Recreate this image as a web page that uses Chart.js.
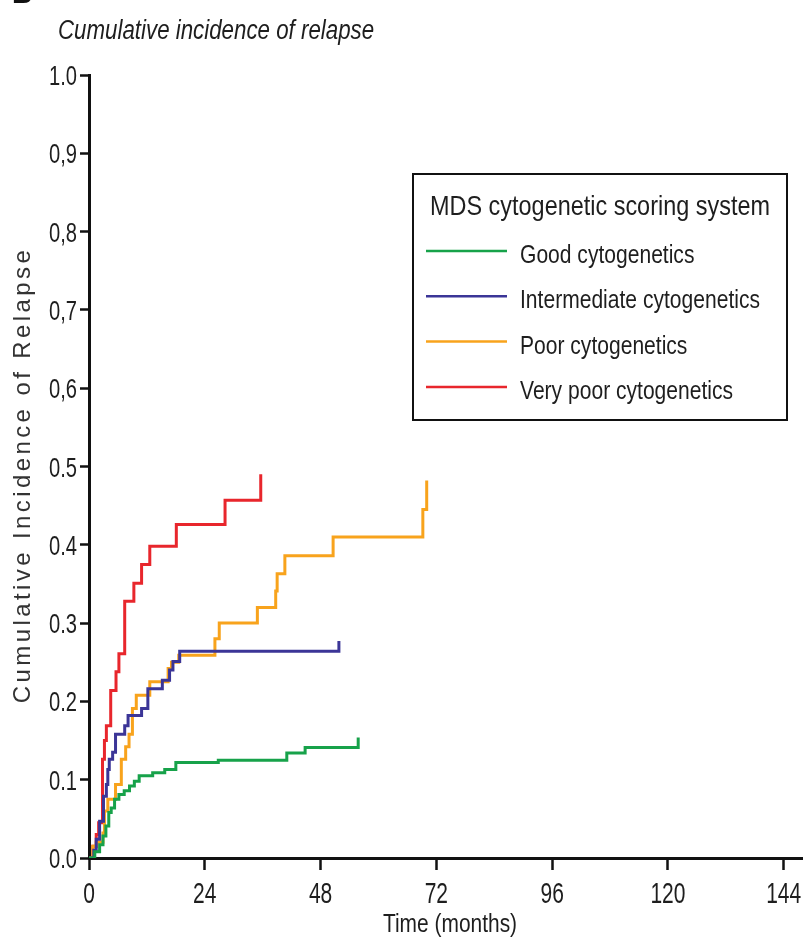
<!DOCTYPE html>
<html>
<head>
<meta charset="utf-8">
<title>Cumulative incidence of relapse</title>
<script src="https://cdn.jsdelivr.net/npm/chart.js@4.4.1/dist/chart.umd.min.js"></script>
<style>
    html, body { margin: 0; padding: 0; background: #fff; }
    #wrap { width: 803px; height: 942px; }
</style>
</head>
<body>
<div id="wrap"><canvas id="cir" width="803" height="942"></canvas></div>
<script>
// values (months, cumulative incidence)
const goodMonths = [0, 1.2, 2.2, 2.9, 3.5, 4.1, 4.6, 5.3, 6.2, 7.3, 8.4, 9.4, 10.4, 13.2, 15.7, 18.0, 26.8, 41.0, 44.8, 55.8];
const goodCir = [0, 0.008, 0.017, 0.028, 0.041, 0.058, 0.064, 0.075, 0.081, 0.086, 0.092, 0.098, 0.105, 0.109, 0.113, 0.122, 0.125, 0.134, 0.141, 0.154];

const interMonths = [0, 1.0, 1.5, 2.2, 3.0, 3.6, 3.9, 4.2, 4.9, 5.5, 7.4, 8.1, 10.9, 12.2, 15.2, 16.7, 17.4, 18.8, 51.8];
const interCir = [0, 0.01, 0.024, 0.047, 0.079, 0.094, 0.113, 0.126, 0.135, 0.158, 0.169, 0.182, 0.191, 0.216, 0.227, 0.240, 0.251, 0.264, 0.277];

const poorMonths = [0, 0.8, 1.5, 2.9, 3.2, 3.9, 5.5, 6.7, 7.6, 8.3, 9.0, 9.8, 12.6, 16.4, 17.1, 18.6, 26.1, 27.0, 34.9, 38.7, 39.0, 40.6, 50.6, 69.2, 70.0];
const poorCir = [0, 0.015, 0.02, 0.032, 0.06, 0.075, 0.094, 0.126, 0.142, 0.158, 0.191, 0.208, 0.225, 0.242, 0.25, 0.259, 0.28, 0.30, 0.32, 0.341, 0.363, 0.386, 0.41, 0.445, 0.482];

const veryPoorMonths = [0, 0.8, 1.5, 2.0, 2.8, 3.2, 3.6, 4.5, 5.6, 6.2, 7.4, 9.3, 10.9, 12.6, 18.1, 28.2, 35.6];
const veryPoorCir = [0, 0.015, 0.03, 0.045, 0.126, 0.15, 0.169, 0.214, 0.238, 0.261, 0.328, 0.351, 0.375, 0.398, 0.426, 0.457, 0.49];

const seriesLabels = ["Good cytogenetics", "Intermediate cytogenetics", "Poor cytogenetics", "Very poor cytogenetics"];
const seriesColors = ["#17a24a", "#3b3597", "#f8a31c", "#e8262c"];

const xTickValues = [0, 24, 48, 72, 96, 120, 144];
const yTickValues = [0, 0.1, 0.2, 0.3, 0.4, 0.5, 0.6, 0.7, 0.8, 0.9, 1.0];
const yTickLabels = ["0.0", "0.1", "0.2", "0.3", "0.4", "0.5", "0,6", "0,7", "0,8", "0,9", "1.0"];

const SANS = "'Liberation Sans', Arial, sans-serif";
const INK = "#1e1e1e";

function toPoints(months, values) {
    return months.map((m, i) => ({ x: m, y: values[i] }));
}

const seriesData = [
    toPoints(goodMonths, goodCir),
    toPoints(interMonths, interCir),
    toPoints(poorMonths, poorCir),
    toPoints(veryPoorMonths, veryPoorCir)
];

// no narrow face is installed, so squeeze the regular one horizontally
function narrowText(ctx, text, x, y, size, sx, align, style) {
    ctx.save();
    ctx.font = (style ? style + " " : "") + size + "px " + SANS;
    ctx.textAlign = align || "left";
    ctx.textBaseline = "alphabetic";
    ctx.fillStyle = INK;
    ctx.translate(x, y);
    ctx.scale(sx, 1);
    ctx.fillText(text, 0, 0);
    ctx.restore();
}

const decorations = {
    id: "decorations",
    afterDraw(chart) {
        const ctx = chart.ctx;
        const xs = chart.scales.x;
        const ys = chart.scales.y;
        const area = chart.chartArea;

        // tick labels, placed by the library's scales
        xs.ticks.forEach((t) => {
            narrowText(ctx, String(t.value), xs.getPixelForValue(t.value), 903, 30, 0.7, "center");
        });
        ys.ticks.forEach((t, i) => {
            narrowText(ctx, yTickLabels[i], area.left - 12, ys.getPixelForValue(t.value) + 10, 28, 0.72, "right");
        });

        narrowText(ctx, "Time (months)", (area.left + area.right) / 2 + 4, 932, 26, 0.805, "center");

        ctx.save();
        ctx.fillStyle = "#111";
        ctx.font = "bold 28px " + SANS;
        ctx.fillText("B", 12, 3);
        ctx.restore();

        narrowText(ctx, "Cumulative incidence of relapse", 58, 39, 27, 0.826, "left", "italic");

        ctx.save();
        ctx.translate(23, 475);
        ctx.rotate(-Math.PI / 2);
        ctx.fillStyle = "#333";
        ctx.font = "24px " + SANS;
        ctx.letterSpacing = "3.4px";
        ctx.textAlign = "center";
        ctx.textBaseline = "middle";
        ctx.fillText("Cumulative Incidence of Relapse", 0, 0);
        ctx.restore();

        // legend box
        const box = { left: 413, top: 174, right: 787, bottom: 420 };
        ctx.save();
        ctx.strokeStyle = "#111";
        ctx.lineWidth = 2;
        ctx.strokeRect(box.left, box.top, box.right - box.left, box.bottom - box.top);
        ctx.restore();

        narrowText(ctx, "MDS cytogenetic scoring system", (box.left + box.right) / 2, 215, 28, 0.837, "center");

        chart.data.datasets.forEach((ds, i) => {
            const base = 263 + i * 45.3;
            ctx.save();
            ctx.strokeStyle = ds.borderColor;
            ctx.lineWidth = 2.5;
            ctx.beginPath();
            ctx.moveTo(426, base - 12);
            ctx.lineTo(507, base - 12);
            ctx.stroke();
            ctx.restore();
            narrowText(ctx, ds.label, 520, base, 26, 0.81, "left");
        });
    }
};

const ctx = document.getElementById("cir").getContext("2d");
new Chart(ctx, {
    type: "line",
    data: {
        datasets: seriesData.map((pts, i) => ({
            label: seriesLabels[i],
            data: pts,
            borderColor: seriesColors[i],
            backgroundColor: seriesColors[i],
            borderWidth: 3,
            stepped: "before",
            pointRadius: 0,
            fill: false
        }))
    },
    options: {
        responsive: false,
        animation: false,
        devicePixelRatio: 1,
        layout: { padding: { left: 0, right: 0, top: 75, bottom: 0 } },
        plugins: {
            legend: { display: false },
            tooltip: { enabled: false },
            title: { display: false }
        },
        scales: {
            x: {
                type: "linear",
                min: 0,
                max: 148,
                afterBuildTicks: (s) => { s.ticks = xTickValues.map(v => ({ value: v })); },
                afterFit: (s) => { s.height = 84; s.paddingLeft = 0; s.paddingRight = 0; },
                grid: { display: true, drawOnChartArea: false, drawTicks: true, tickLength: 12, tickWidth: 2.5, tickColor: "#111" },
                border: { display: true, color: "#111", width: 3 },
                ticks: { display: false }
            },
            y: {
                type: "linear",
                min: 0,
                max: 1,
                afterBuildTicks: (s) => { s.ticks = yTickValues.map(v => ({ value: v })); },
                afterFit: (s) => { s.width = 89; s.paddingTop = 0; s.paddingBottom = 0; },
                grid: { display: true, drawOnChartArea: false, drawTicks: true, tickLength: 9, tickWidth: 2.5, tickColor: "#111" },
                border: { display: true, color: "#111", width: 3 },
                ticks: { display: false }
            }
        }
    },
    plugins: [decorations]
});
</script>
</body>
</html>
